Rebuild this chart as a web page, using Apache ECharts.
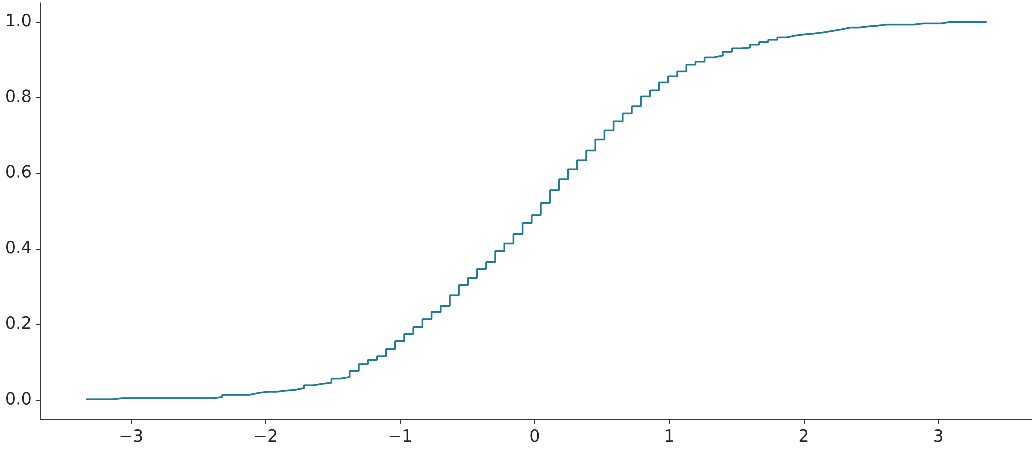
<!DOCTYPE html>
<html>
<head>
<meta charset="utf-8">
<script src="https://cdn.jsdelivr.net/npm/echarts@6/dist/echarts.min.js"></script>
<style>
html,body{margin:0;padding:0;background:#fff;}
#chart{width:1035px;height:450px;}
</style>
</head>
<body>
<div id="chart"></div>
<script>
// Histogram bin specification (cumulative step plot)
const binStart = -3.337;
const binWidth = 0.06764;
// Cumulative proportion for each of the 99 bins
const cumulative = [
  0.002,0.002,0.002,
  0.005,0.005,0.005,0.005,0.005,0.005,0.005,0.005,0.005,0.005,0.005,
  0.008,
  0.014,0.014,0.014,
  0.019,
  0.022,0.022,
  0.025,
  0.027,
  0.032,
  0.039,
  0.043,
  0.046,
  0.057,0.061,0.077,0.095,0.106,0.116,0.135,0.156,0.175,0.193,
  0.214,0.233,0.249,0.277,0.304,0.323,0.347,0.365,0.394,0.414,
  0.439,0.468,0.489,0.521,0.555,0.584,0.610,0.634,0.660,0.689,
  0.713,0.737,0.758,0.777,0.803,0.819,0.840,0.856,0.869,0.887,
  0.895,0.906,0.911,0.921,0.930,0.932,0.940,0.947,0.953,0.959,
  0.964,0.967,0.969,0.972,0.976,0.980,0.985,0.985,0.988,0.990,
  0.993,0.993,0.993,0.993,0.996,0.996,0.996,1.0,1.0,1.0,1.0,1.0
];
const xTicks = [-3,-2,-1,0,1,2,3];
const yTicks = [0,0.2,0.4,0.6,0.8,1.0];

// Build step points: each bin's level spans [edge_k, edge_k+1]
const points = [];
for (let k = 0; k < cumulative.length; k++) {
  points.push([binStart + k*binWidth, cumulative[k]]);
}
points.push([binStart + cumulative.length*binWidth, cumulative[cumulative.length-1]]);

const xLo = binStart, xHi = binStart + cumulative.length*binWidth;
const xPad = (xHi - xLo)*0.05;

const textColor = '#262626';
const chart = echarts.init(document.getElementById('chart'), null, {renderer:'canvas', devicePixelRatio:4});
chart.setOption({
  animation:false,
  backgroundColor:'#ffffff',
  grid:{left:40.7, right:3.3, top:3, bottom:31, containLabel:false},
  xAxis:{
    type:'value',
    min:xLo - xPad, max:xHi + xPad,
    splitLine:{show:false},
    axisLine:{show:true, onZero:false, lineStyle:{color:'#3a3a3a', width:1.1}},
    axisTick:{show:true, length:5, lineStyle:{color:'#3a3a3a', width:1}, customValues:xTicks},
    axisLabel:{
      customValues:xTicks, margin:10,
      color:textColor, fontFamily:'DejaVu Sans', fontSize:16.7,
      formatter:function(v){ return v<0 ? '\u2212'+Math.abs(v) : String(v); }
    }
  },
  yAxis:{
    type:'value',
    min:-0.05, max:1.05,
    splitLine:{show:false},
    axisLine:{show:true, onZero:false, lineStyle:{color:'#3a3a3a', width:1.1}},
    axisTick:{show:true, length:5, lineStyle:{color:'#3a3a3a', width:1}, customValues:yTicks},
    axisLabel:{
      customValues:yTicks, margin:9,
      color:textColor, fontFamily:'DejaVu Sans', fontSize:16.7,
      formatter:function(v){ return v.toFixed(1); }
    }
  },
  series:[{
    type:'line',
    step:'end',
    data:points,
    showSymbol:false,
    symbol:'none',
    lineStyle:{color:'#1f7b96', width:1.75},
    z:3
  }]
});
</script>
</body>
</html>
